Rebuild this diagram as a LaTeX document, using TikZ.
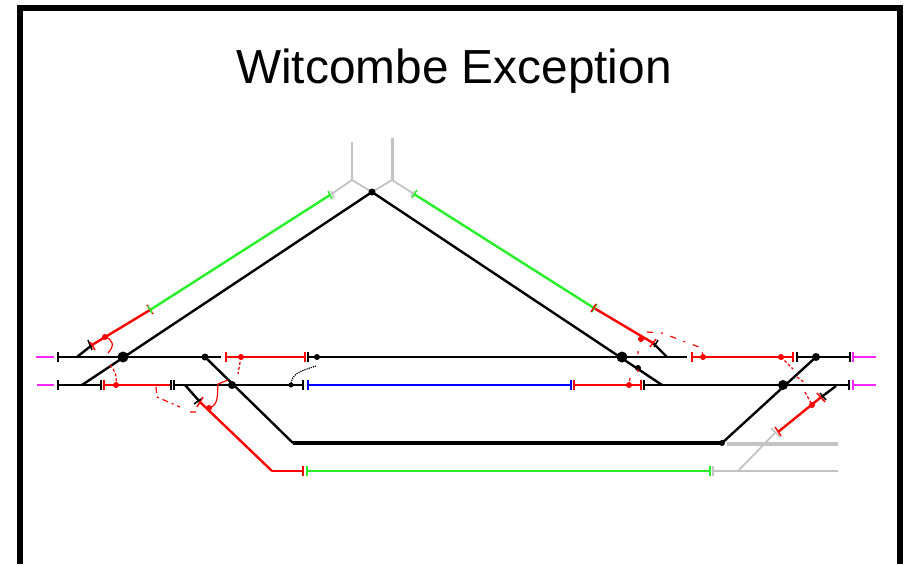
\documentclass[tikz,border=0pt]{standalone}
\usepackage{fontspec}
\setmainfont{Liberation Sans}
\tikzset{
  track/.style={line width=1.8pt},
  slant/.style={line width=2.4pt},
  main/.style={line width=4pt},
  blocker/.style={line width=1.5pt},
  wire/.style={red,line width=1.2pt,densely dashed},
}
\definecolor{railgreen}{RGB}{40,240,40}
\definecolor{railgray}{RGB}{195,195,195}
\definecolor{railpink}{RGB}{255,40,255}
\begin{document}
\begin{tikzpicture}[x=1pt,y=-1pt]
  \useasboundingbox (0,0) rectangle (907,565);
  \draw[line width=6pt] (20,564) -- (20,8) -- (899.7,8) -- (899.7,564);
  \node[anchor=base] (title) at (454,83.5) {\fontsize{47.8}{50}\selectfont Witcombe Exception};

  % gray stubs
  \draw[railgray,track] (330,195) -- (352,180) -- (352,142) (352,180) -- (372,192);
  \draw[railgray,line width=3pt] (392,180) -- (392,138);
  \draw[railgray,track] (372,192) -- (392,180) -- (414,194);
  \draw[railgray,main] (727,444) -- (838,444);
  \draw[railgray,track] (713,471) -- (838,471) (738,471) -- (775,433);

  % pink ends
  \draw[railpink,track] (36,357) -- (54,357) (37,385) -- (54,385) (853,357) -- (876,357) (853,385) -- (876,385);

  % black running lines
  \draw[track] (58,357) -- (221,357) (308,357) -- (687,357) (797,357) -- (850,357);
  \draw[track] (58,385) -- (101,385) (174,385) -- (303,385) (644,385) -- (849,385);
  \draw[slant] (82,385) -- (372,192) -- (662,385);
  \draw[slant] (77,357) -- (92,345) (653,343) -- (667,357) (185,385) -- (200,402) (820,398) -- (836,386);
  \draw[slant] (205,357) -- (293,443) (816,357) -- (722,443);
  \draw[main] (293,443) -- (722,443);

  % coloured sections
  \draw[railgreen,slant] (150,310) -- (330,195) (414,194) -- (594,308);
  \draw[railgreen,track] (307,471) -- (710,471);
  \draw[red,slant] (92,345) -- (150,310) (594,308) -- (653,343) (200,402) -- (272,471) (778,432) -- (820,398);
  \draw[red,track] (226,357) -- (305,357) (692,357) -- (793,357);
  \draw[red,track] (104,385) -- (171,385) (574,385) -- (641,385) (272,471) -- (303,471);
  \draw[blue,track] (308,385) -- (571,385);

  % section ends
  \foreach \x/\y/\c in {58/357/black,58/385/black,101/385/black,171/385/black,174/385/black,
    226/357/red,305/357/red,308/357/black,104/385/red,303/385/black,308/385/blue,
    571/385/blue,574/385/red,641/385/red,644/385/black,692/357/red,793/357/red,797/357/black,
    850/357/black,849/385/black,853/357/railpink,853/385/railpink,
    303/471/red,307/471/railgreen,710/471/railgreen,713/471/railgray}
    \draw[\c,blocker] (\x,\y-5) -- (\x,\y+5);
  \draw[black,blocker] (88,340) -- (92,350);
  \draw[red,blocker] (90,342) -- (95,350);
  \draw[red,blocker] (147,305) -- (153,314);
  \draw[railgreen,blocker] (148,306) -- (152,313) (328,191) -- (332,199) (412,198) -- (417,190) (592,312) -- (597,304);
  \draw[railgray,blocker] (331,191) -- (334,198) (411,197) -- (414,191) (771,428) -- (780,437);
  \draw[red,blocker] (591,312) -- (596,304) (650,347) -- (656,339) (775,427) -- (781,436) (817,393) -- (825,402) (197,407) -- (203,397);
  \draw[black,blocker] (654,347) -- (658,340) (820,393) -- (826,400) (194,404) -- (201,399);

  % junction dots
  \foreach \x/\y/\r in {372/192/3.5,123/357/5.5,205/357/3.5,317/357/3,232/385/4,291/385/2.5,
    622/357/5.5,638/368/3,783/385/5,816/357/4,722/443/3}
    \fill (\x,\y) circle [radius=\r pt];
  \foreach \x/\y in {105/337,241/357,116/385,209/408,641/339,629/385,781/357,812/405,703/357}
    \fill[red] (\x,\y) circle [radius=3pt];

  % control wires
  \draw[red,line width=1.2pt] (105,337) .. controls (113,339) and (115,346) .. (108,353);
  \draw[wire] (110,365) .. controls (116,372) and (117,376) .. (116,385);
  \draw[wire] (241,357) -- (238,374);
  \draw[black,line width=1.2pt,densely dotted] (316,366) .. controls (300,371) and (291,374) .. (291,385);
  \draw[red,line width=1.2pt] (209,408) .. controls (219,405) and (217,395) .. (218,384) -- (228,380);
  \draw[wire,dash pattern=on 6pt off 4pt on 2pt off 4pt] (156,387) -- (157,397) -- (180,407) (190,412) -- (197,412);
  \draw[wire,dash pattern=on 6pt off 8pt on 2pt off 8pt] (647,332) -- (662,333) -- (688,343) -- (702,348) -- (703,361);
  \draw[wire] (638,351) -- (638,355) (638,369) -- (638,374) (630,378) -- (629,385);
  \draw[wire] (781,357) -- (793,369) (797,377) -- (805,383) (805,392) -- (812,405);
\end{tikzpicture}
\end{document}
